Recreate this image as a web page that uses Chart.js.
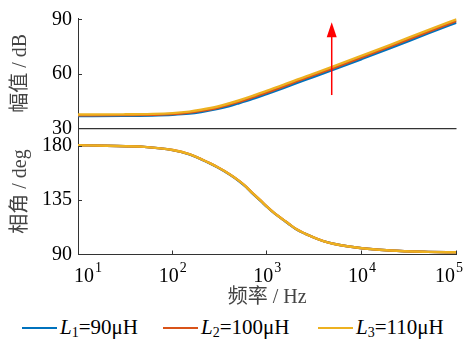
<!DOCTYPE html>
<html>
<head>
<meta charset="utf-8">
<script src="https://cdn.jsdelivr.net/npm/chart.js@4.4.0/dist/chart.umd.min.js"></script>
<style>
  html, body { margin: 0; padding: 0; background: #fff; }
  #wrap { position: relative; width: 463px; height: 351px; overflow: hidden; }
  #bode { position: absolute; left: 0; top: 0; }
  .leg { position: absolute; top: 315px; font: 21px "Liberation Serif", serif; color: #000; white-space: nowrap; line-height: 24px; }
  .leg span.ln { display: inline-block; width: 35px; height: 2px; vertical-align: middle; margin-right: 3px; position: relative; top: -1px; }
  .leg sub { font-size: 14px; vertical-align: -3px; line-height: 0; }
</style>
</head>
<body>
<div id="wrap">
  <canvas id="bode" width="463" height="310"></canvas>
  <div class="leg" style="left:22px"><span class="ln" style="background:#0072BD"></span><i>L</i><sub>1</sub>=90μH</div>
  <div class="leg" style="left:163px"><span class="ln" style="background:#D95319"></span><i>L</i><sub>2</sub>=100μH</div>
  <div class="leg" style="left:318px"><span class="ln" style="background:#EDB120"></span><i>L</i><sub>3</sub>=110μH</div>
</div>
<script>
// frequencies (Hz)
var freqs = [10, 30, 100, 150, 200, 300, 400, 500, 700, 1000, 1500, 2000, 3000, 5000, 10000, 20000, 50000, 100000];

// magnitude in dB
var magL1 = [36.9, 37.0, 37.6, 38.2, 39.1, 40.8, 42.4, 43.9, 46.3, 49.1, 52.4, 54.8, 58.1, 62.3, 68.2, 74.2, 82.2, 88.2];
var magL2 = [37.3, 37.4, 38.0, 38.8, 39.7, 41.4, 43.2, 44.6, 47.1, 49.9, 53.2, 55.7, 59.0, 63.2, 69.1, 75.1, 83.1, 89.1];
var magL3 = [37.7, 37.8, 38.5, 39.3, 40.3, 42.1, 43.9, 45.4, 47.9, 50.8, 54.1, 56.6, 59.9, 64.1, 70.0, 76.0, 84.0, 90.0];

// phase in deg
var phFreqs = [10, 20, 50, 100, 150, 200, 250, 300, 400, 500, 600, 700, 850, 1000, 1200, 1500, 1700, 2000, 2500, 3000, 4000, 5000, 7000, 10000, 20000, 50000, 100000];
var phL1 = [180.2, 179.8, 178.9, 176.2, 172.6, 168.6, 165.0, 161.8, 156.0, 150.7, 145.6, 140.3, 134.3, 129.1, 123.8, 118.2, 115.0, 111.1, 107.2, 104.5, 100.8, 98.9, 96.8, 95.2, 93.3, 92.2, 91.8];
var phL2 = [180.2, 179.8, 178.9, 176.3, 172.8, 168.8, 165.2, 162.0, 156.3, 151.0, 145.9, 140.6, 134.6, 129.4, 124.0, 118.4, 115.2, 111.2, 107.3, 104.6, 100.9, 98.9, 96.8, 95.2, 93.3, 92.2, 91.8];
var phL3 = [180.2, 179.8, 178.9, 176.3, 172.8, 168.8, 165.2, 162.0, 156.3, 151.0, 145.9, 140.6, 134.6, 129.4, 124.0, 118.4, 115.2, 111.2, 107.3, 104.6, 100.9, 98.9, 96.8, 95.2, 93.3, 92.2, 91.8];

var xTicks = [10, 100, 1000, 10000, 100000];
var xExp = ["1", "2", "3", "4", "5"];
var magTicks = [30, 60, 90];
var phTicks = [90, 135, 180];

// red arrow (Hz, dB from -> to)
var arrowF = 4800;
var arrowFrom = 48.4;
var arrowTo = 88.3;

var colors = ["#0072BD", "#D95319", "#EDB120"];
var serif = '"Liberation Serif", "Noto Sans CJK SC", serif';

function pts(xs, ys) {
  return xs.map(function (x, i) { return { x: x, y: ys[i] }; });
}

function line(label, xs, ys, color, axis, order) {
  return {
    label: label,
    data: pts(xs, ys),
    borderColor: color,
    backgroundColor: color,
    borderWidth: 2.4,
    pointRadius: 0,
    cubicInterpolationMode: "monotone",
    yAxisID: axis,
    order: order,
  };
}

// ticks pointing into the plot + 10^n labels + arrow
var extras = {
  id: "extras",
  afterDraw(chart) {
    var c = chart.ctx;
    var x = chart.scales.x, ym = chart.scales.yMag, yp = chart.scales.yPh;
    var area = chart.chartArea;
    c.save();
    c.strokeStyle = "#333";
    c.lineWidth = 1;
    c.beginPath();
    [60, 90].forEach(function (v) {
      var py = Math.round(ym.getPixelForValue(v)) + 0.5;
      c.moveTo(area.left, py); c.lineTo(area.left + 4, py);
    });
    [135, 180].forEach(function (v) {
      var py = Math.round(yp.getPixelForValue(v)) + 0.5;
      c.moveTo(area.left, py); c.lineTo(area.left + 4, py);
    });
    xTicks.slice(1).forEach(function (v) {
      var px = Math.round(x.getPixelForValue(v)) - 0.5;
      c.moveTo(px, area.bottom); c.lineTo(px, area.bottom - 4);
    });
    c.stroke();

    // 10^n labels
    c.fillStyle = "#000";
    c.textBaseline = "alphabetic";
    c.textAlign = "left";
    xTicks.forEach(function (v, i) {
      c.font = "20px " + serif;
      var w1 = c.measureText("10").width;
      c.font = "14px " + serif;
      var w2 = c.measureText(xExp[i]).width;
      var w = w1 + w2 + 1;
      var left = x.getPixelForValue(v) - w / 2;
      if (left < 74) left = 74;
      if (left + w > 463) left = 463 - w;
      c.font = "20px " + serif;
      c.fillText("10", left, area.bottom + 27);
      c.font = "14px " + serif;
      c.fillText(xExp[i], left + w1 + 1, area.bottom + 17);
    });

    // red arrow
    var ax = x.getPixelForValue(arrowF);
    var y0 = ym.getPixelForValue(arrowFrom);
    var y1 = ym.getPixelForValue(arrowTo);
    c.strokeStyle = "#FF0000";
    c.fillStyle = "#FF0000";
    c.lineWidth = 1.5;
    c.beginPath();
    c.moveTo(ax, y0); c.lineTo(ax, y1 + 10);
    c.stroke();
    c.beginPath();
    c.moveTo(ax, y1);
    c.lineTo(ax - 5, y1 + 15);
    c.lineTo(ax + 5, y1 + 15);
    c.closePath();
    c.fill();
    c.restore();
  },
};

var ctx = document.getElementById("bode").getContext("2d");
var bode = new Chart(ctx, {
  type: "line",
  data: {
    datasets: [
      line("L1=90μH", freqs, magL1, colors[0], "yMag", 3),
      line("L2=100μH", freqs, magL2, colors[1], "yMag", 2),
      line("L3=110μH", freqs, magL3, colors[2], "yMag", 1),
      line("L1=90μH", phFreqs, phL1, colors[0], "yPh", 3),
      line("L2=100μH", phFreqs, phL2, colors[1], "yPh", 2),
      line("L3=110μH", phFreqs, phL3, colors[2], "yPh", 1),
    ],
  },
  options: {
    responsive: false,
    animation: false,
    devicePixelRatio: 1,
    layout: { padding: { top: 12.7, right: 6.5, left: 0, bottom: 0 } },
    plugins: {
      legend: { display: false },
      tooltip: { enabled: false },
    },
    scales: {
      x: {
        type: "logarithmic",
        min: 10,
        max: 100000,
        grid: { display: false, drawTicks: false },
        border: { display: true, color: "#333", width: 1 },
        ticks: { display: false },
        title: {
          display: true,
          text: "频率 / Hz",
          color: "#444",
          font: { family: serif, size: 20 },
          padding: { top: 0, bottom: 0 },
        },
        afterFit(scale) { scale.height = 55.5; },
      },
      // phase first: the first axis of a stack sits at the bottom
      yPh: {
        type: "linear",
        position: "left",
        stack: "bode",
        stackWeight: 128.5,
        min: 90,
        max: 194,
        afterBuildTicks(scale) { scale.ticks = phTicks.map(function (v) { return { value: v }; }); },
        grid: { display: false, drawTicks: false },
        border: { display: true, color: "#333", width: 1 },
        ticks: { color: "#000", padding: 6, font: { family: serif, size: 20 } },
        title: {
          display: true,
          text: "相角 / deg",
          color: "#444",
          font: { family: serif, size: 20 },
          padding: { top: 9, bottom: 0 },
        },
        afterFit(scale) { scale.width = 78; },
      },
      yMag: {
        type: "linear",
        position: "left",
        stack: "bode",
        stackWeight: 112.8,
        min: 30,
        max: 90.7,
        afterBuildTicks(scale) { scale.ticks = magTicks.map(function (v) { return { value: v }; }); },
        grid: {
          drawTicks: false,
          color: function (c) { return c.tick && c.tick.value === 30 ? "#333" : "rgba(0,0,0,0)"; },
          lineWidth: 1.3,
        },
        border: { display: true, color: "#333", width: 1 },
        ticks: { color: "#000", padding: 6, font: { family: serif, size: 20 } },
        title: {
          display: true,
          text: "幅值 / dB",
          color: "#444",
          font: { family: serif, size: 20 },
          padding: { top: 9, bottom: 0 },
        },
        afterFit(scale) { scale.width = 78; },
      },
    },
  },
  plugins: [extras],
});
</script>
</body>
</html>
